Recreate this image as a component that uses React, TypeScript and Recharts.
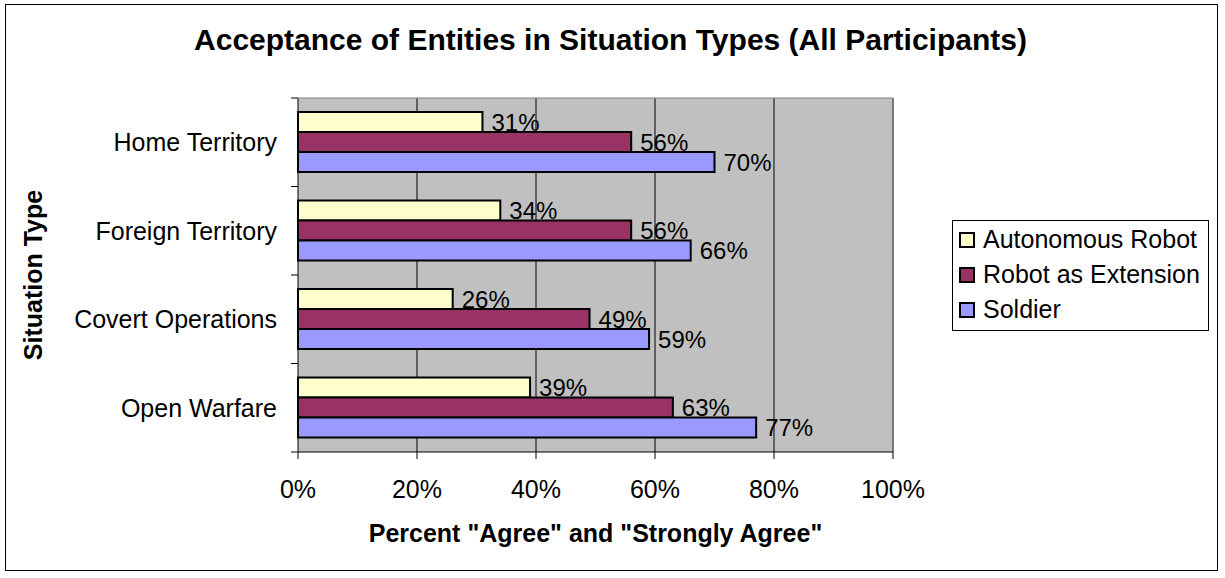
import { BarChart, Bar, XAxis, YAxis, CartesianGrid, Legend, LabelList } from "recharts";

const situations = ["Home Territory", "Foreign Territory", "Covert Operations", "Open Warfare"];
const autonomousRobot = [31, 34, 26, 39];
const robotAsExtension = [56, 56, 49, 63];
const soldier = [70, 66, 59, 77];
const percentTicks = [0, 20, 40, 60, 80, 100];

const seriesInfo = [
  { key: "autonomous", name: "Autonomous Robot", color: "#FFFFCC" },
  { key: "extension", name: "Robot as Extension", color: "#993366" },
  { key: "soldier", name: "Soldier", color: "#9999FF" },
];

const data = situations.map((s, i) => ({
  situation: s,
  autonomous: autonomousRobot[i],
  extension: robotAsExtension[i],
  soldier: soldier[i],
}));

const FONT = "Arial, 'Liberation Sans', sans-serif";
const Y_TICK_MARGIN = 21;
const Y_TICK_LEN = 7;

// category label + tick mark on the band boundaries (Excel style)
function CategoryTick(props: any) {
  const { x, y, payload, index, visibleTicksCount } = props;
  const axisX = x + Y_TICK_MARGIN;
  const half = payload.offset || 0;
  const isLast = index === visibleTicksCount - 1;
  return (
    <g>
      <line x1={axisX - Y_TICK_LEN} x2={axisX} y1={y - half} y2={y - half} stroke="#000" />
      {isLast && <line x1={axisX - Y_TICK_LEN} x2={axisX} y1={y + half} y2={y + half} stroke="#000" />}
      <text x={x} y={y} dy="0.36em" textAnchor="end" fontSize={25} fill="#000" fontFamily={FONT}>
        {payload.value}
      </text>
    </g>
  );
}

function LegendBox() {
  return (
    <div
      style={{
        border: "1px solid #000",
        background: "#fff",
        width: 257,
        padding: "1px 0 3px 6px",
        boxSizing: "border-box",
        fontFamily: FONT,
        fontSize: 25,
        color: "#000",
      }}
    >
      {seriesInfo.map((s) => (
        <div key={s.key} style={{ display: "flex", alignItems: "center", height: 35, whiteSpace: "nowrap" }}>
          <span
            style={{
              display: "inline-block",
              width: 12,
              height: 12,
              border: "2px solid #000",
              background: s.color,
              marginRight: 8,
              flex: "none",
            }}
          />
          {s.name}
        </div>
      ))}
    </div>
  );
}

export default function App() {
  return (
    <div style={{ position: "absolute", left: 0, top: 0, width: 1225, height: 578, background: "#fff" }}>
      {/* chart frame */}
      <div
        style={{
          position: "absolute",
          left: 5,
          top: 4,
          width: 1213,
          height: 567,
          border: "1px solid #000",
          boxSizing: "border-box",
        }}
      />
      <div
        style={{
          position: "absolute",
          left: 0,
          top: 23,
          width: 1221,
          textAlign: "center",
          fontFamily: FONT,
          fontWeight: "bold",
          fontSize: 30,
          color: "#000",
          whiteSpace: "nowrap",
        }}
      >
        Acceptance of Entities in Situation Types (All Participants)
      </div>
      <BarChart
        width={1225}
        height={578}
        data={data}
        layout="vertical"
        margin={{ top: 98, right: 332, bottom: 0, left: 28 }}
        barGap={0}
        barSize={20}
        style={{ position: "absolute", left: 0, top: 0, fontFamily: FONT }}
      >
        <CartesianGrid horizontal={false} stroke="#000" fill="#C0C0C0" />
        <CartesianGrid
          stroke="#808080"
          horizontalCoordinatesGenerator={({ offset }: any) => [offset.top]}
          verticalCoordinatesGenerator={({ offset }: any) => [offset.left + offset.width]}
        />
        <XAxis
          type="number"
          domain={[0, 100]}
          ticks={percentTicks}
          tickFormatter={(v) => `${v}%`}
          height={126}
          tickSize={7}
          tickMargin={21}
          stroke="#000"
          tick={{ fill: "#000", fontSize: 25 }}
          label={{
            value: 'Percent "Agree" and "Strongly Agree"',
            position: "insideBottom",
            offset: 36,
            style: { fontWeight: "bold", fontSize: 25, fill: "#000" },
          }}
        />
        <YAxis
          type="category"
          dataKey="situation"
          width={270}
          tickLine={false}
          axisLine={false}
          tickSize={0}
          tickMargin={Y_TICK_MARGIN}
          tick={<CategoryTick />}
          label={{
            value: "Situation Type",
            angle: -90,
            position: "insideLeft",
            offset: 5,
            style: { fontWeight: "bold", fontSize: 25, fill: "#000", textAnchor: "middle" },
          }}
        />
        <Legend
          layout="vertical"
          align="center"
          verticalAlign="middle"
          wrapperStyle={{ top: 220, left: 952, width: 257 }}
          content={() => <LegendBox />}
        />
        {seriesInfo.map((s) => (
          <Bar
            key={s.key}
            dataKey={s.key}
            name={s.name}
            fill={s.color}
            stroke="#000"
            strokeWidth={2}
            isAnimationActive={false}
          >
            <LabelList
              dataKey={s.key}
              position="right"
              offset={9}
              formatter={(v: number) => `${v}%`}
              style={{ fill: "#000", fontSize: 24 }}
            />
          </Bar>
        ))}
      </BarChart>
    </div>
  );
}
